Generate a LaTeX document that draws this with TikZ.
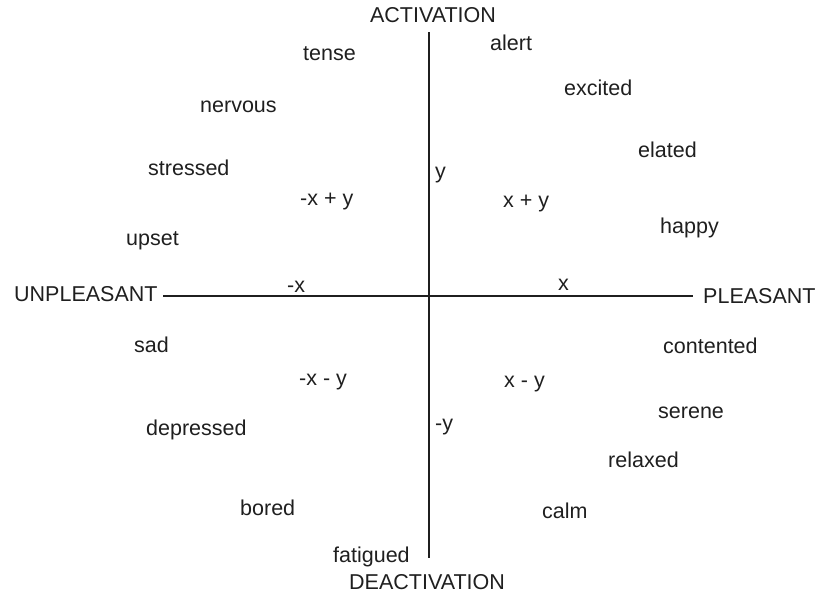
\documentclass[tikz,border=0pt]{standalone}
\usepackage{fontspec}
\setmainfont{Liberation Sans}
\usetikzlibrary{positioning}
\definecolor{tinta}{rgb}{0.12,0.12,0.12}
\tikzset{
  emocion/.style={
    anchor=base west,
    inner sep=0pt,
    text=tinta,
    font=\fontsize{21.5}{24}\selectfont
  },
  polo/.style={
    emocion,
    anchor=base
  },
  eje/.style={
    line width=1.7pt,
    tinta
  }
}

\begin{document}
\begin{tikzpicture}[x=1pt,y=-1pt]
\useasboundingbox (0,0) rectangle (819,598);
% polos de los ejes
\node[polo] (activ) at (433,22) {ACTIVATION};
\node[polo] (desactiv) at (427,589) {DEACTIVATION};
\node[emocion] (desagr) at (14,301) {UNPLEASANT};
\node[emocion] (agrad) at (703,303) {PLEASANT};
\coordinate (ejeizq) at (163,296);
\coordinate (ejeder) at (693,296);
\coordinate (ejearr) at (429,32);
\coordinate (ejeaba) at (429,558);
\draw[eje] (ejeizq) -- (ejeder);
\draw[eje] (ejearr) -- (ejeaba);
% componentes
\node[emocion] (y) at (435,178) {y};
\node[emocion] (my) at (435,430) {-y};
\node[emocion] (x) at (558,290) {x};
\node[emocion] (mx) at (287,292) {-x};
\node[emocion] (mxy) at (300,205) {-x + y};
\node[emocion] (xy) at (503,207) {x + y};
\node[emocion] (mxmy) at (299,385) {-x - y};
\node[emocion] (xmy) at (504,387) {x - y};
% emociones
\node[emocion] (tense) at (303,60) {tense};
\node[emocion] (alert) at (490,50) {alert};
\node[emocion] (nervous) at (200,112) {nervous};
\node[emocion] (excited) at (564,95) {excited};
\node[emocion] (elated) at (638,157) {elated};
\node[emocion] (stressed) at (148,175) {stressed};
\node[emocion] (happy) at (660,233) {happy};
\node[emocion] (upset) at (126,245) {upset};
\node[emocion] (sad) at (134,352) {sad};
\node[emocion] (contented) at (663,353) {contented};
\node[emocion] (serene) at (658,418) {serene};
\node[emocion] (depressed) at (146,435) {depressed};
\node[emocion] (relaxed) at (608,467) {relaxed};
\node[emocion] (bored) at (240,515) {bored};
\node[emocion] (calm) at (542,518) {calm};
\node[emocion] (fatigued) at (333,562) {fatigued};
\end{tikzpicture}
\end{document}
